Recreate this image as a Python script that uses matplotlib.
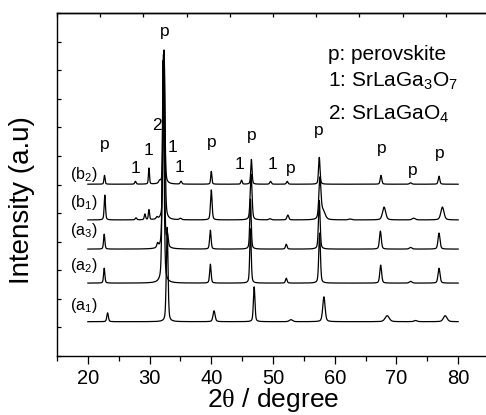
import numpy as np
import matplotlib
matplotlib.use('Agg')
import matplotlib.pyplot as plt

plt.rcParams['font.family'] = ['Liberation Sans', 'DejaVu Sans']
plt.rcParams['mathtext.fontset'] = 'custom'
plt.rcParams['mathtext.rm'] = 'Liberation Sans'
plt.rcParams['mathtext.it'] = 'Liberation Sans:italic'
plt.rcParams['mathtext.sf'] = 'Liberation Serif'

# ---------------- data ----------------
series_labels = ['(a$_1$)', '(a$_2$)', '(a$_3$)', '(b$_1$)', '(b$_2$)']
series_offsets = [1.20, 2.55, 3.74, 4.76, 6.01]
label_y = [1.61, 3.01, 4.23, 5.21, 6.19]

a1_pos = [23.2, 32.85, 40.45, 46.95, 52.9, 58.25, 68.5, 73.1, 77.9]
a1_hgt = [0.31, 3.3, 0.38, 1.22, 0.07, 0.87, 0.21, 0.04, 0.21]
a1_fwhm = [0.30, 0.32, 0.40, 0.30, 0.6, 0.45, 0.8, 0.6, 0.7]

a2_pos = [22.65, 32.2, 39.85, 46.35, 52.15, 57.55, 67.45, 72.3, 76.9]
a2_hgt = [0.52, 7.8, 0.66, 1.9, 0.17, 1.75, 0.63, 0.06, 0.52]
a2_fwhm = [0.25, 0.34, 0.28, 0.28, 0.3, 0.32, 0.35, 0.5, 0.38]

a3_pos = [22.65, 31.3, 32.25, 32.9, 39.85, 46.35, 52.15, 57.5, 67.4, 72.3, 76.9]
a3_hgt = [0.52, 0.15, 6.8, 0.4, 0.66, 1.75, 0.17, 1.7, 0.63, 0.06, 0.56]
a3_fwhm = [0.25, 0.3, 0.34, 0.3, 0.28, 0.28, 0.3, 0.32, 0.35, 0.5, 0.38]

b1_pos = [22.75, 27.8, 29.25, 29.9, 31.2, 32.35, 35.0, 40.0, 46.45, 49.5,
          52.4, 57.6, 58.1, 62.5, 68.0, 72.8, 77.45]
b1_hgt = [0.87, 0.07, 0.2, 0.35, 0.07, 5.9, 0.05, 1.05, 1.6, 0.04,
          0.17, 1.4, 0.3, 0.03, 0.45, 0.06, 0.45]
b1_fwhm = [0.25, 0.3, 0.25, 0.22, 0.3, 0.34, 0.4, 0.3, 0.35, 0.4,
           0.35, 0.4, 0.8, 0.6, 0.6, 0.6, 0.6]

b2_pos = [22.7, 27.7, 29.9, 31.6, 32.35, 35.1, 40.0, 44.9, 46.5, 49.6,
          52.3, 57.5, 67.5, 72.3, 76.9]
b2_hgt = [0.31, 0.10, 0.56, 0.08, 4.7, 0.10, 0.45, 0.14, 0.87, 0.10,
          0.10, 0.94, 0.31, 0.05, 0.28]
b2_fwhm = [0.22, 0.25, 0.2, 0.3, 0.3, 0.3, 0.22, 0.25, 0.25, 0.3,
           0.3, 0.28, 0.3, 0.4, 0.3]

series_peaks = [(a1_pos, a1_hgt, a1_fwhm), (a2_pos, a2_hgt, a2_fwhm),
                (a3_pos, a3_hgt, a3_fwhm), (b1_pos, b1_hgt, b1_fwhm),
                (b2_pos, b2_hgt, b2_fwhm)]

peak_marks = [(32.4, 11.20, 'p'), (31.2, 7.91, '2'), (33.7, 7.14, '1'),
              (29.9, 7.03, '1'), (27.7, 6.40, '1'), (22.7, 7.24, 'p'),
              (34.8, 6.44, '1'), (40.0, 7.31, 'p'), (44.5, 6.54, '1'),
              (46.6, 7.56, 'p'), (49.9, 6.54, '1'), (52.8, 6.40, 'p'),
              (57.4, 7.73, 'p'), (67.7, 7.10, 'p'), (72.7, 6.33, 'p'),
              (77.0, 6.93, 'p')]

legend_lines = ['p: perovskite', '1: SrLaGa$_3$O$_7$', '2: SrLaGaO$_4$']
legend_y = [10.36, 9.41, 8.26]


def profile(x, pos, hgt, fwhm):
    y = np.zeros_like(x)
    for p, h, w in zip(pos, hgt, fwhm):
        g = np.exp(-4 * np.log(2) * ((x - p) / w) ** 2)
        lo = 1.0 / (1.0 + 4 * ((x - p) / w) ** 2)
        y += h * (0.6 * g + 0.4 * lo)
    return y


fig = plt.figure(figsize=(4.86, 4.15), dpi=100)
ax = fig.add_axes([57 / 486, 1 - 356 / 415, 432 / 486, 343 / 415])

x = np.linspace(20, 80, 4001)
for (pos, hgt, fw), off in zip(series_peaks, series_offsets):
    ax.plot(x, off + profile(x, pos, hgt, fw), color='black', lw=0.9)

for lab, ly in zip(series_labels, label_y):
    ax.text(17.15, ly, lab, fontsize=11.5, ha='left', va='baseline')

for xm, ym, t in peak_marks:
    ax.text(xm, ym, t, fontsize=12.5, ha='center', va='baseline')

for t, ly in zip(legend_lines, legend_y):
    ax.text(58.95, ly, t, fontsize=15, ha='left', va='baseline')

ax.set_xlim(15, 85)
ax.set_ylim(0, 12)
ax.set_xticks(np.arange(20, 81, 10))
ax.set_xticks(np.arange(15, 86, 10), minor=True)
ax.set_yticks(np.arange(0, 13, 1))
ax.set_yticklabels([])
ax.tick_params(axis='x', which='major', direction='out', length=6, width=0.9,
               labelsize=14.5, top=False, pad=3)
ax.tick_params(axis='x', which='minor', direction='out', length=3.5, width=0.9, top=False)
ax.tick_params(axis='y', direction='in', length=3, width=0.9, right=False)

sec = ax.secondary_xaxis('top')
sec.set_xticks(np.arange(15, 86, 7))
sec.tick_params(direction='in', length=3, width=0.9, labeltop=False)
sec.spines['top'].set_linewidth(1.0)

for s in ax.spines.values():
    s.set_linewidth(1.0)

ax.set_xlabel('2$\\mathsf{\\theta}$ / degree', fontsize=19, labelpad=-1)
ax.set_ylabel('Intensity (a.u)', fontsize=20)
ax.yaxis.set_label_coords(-0.05, 0.455)

fig.savefig('out.png', dpi=100)
